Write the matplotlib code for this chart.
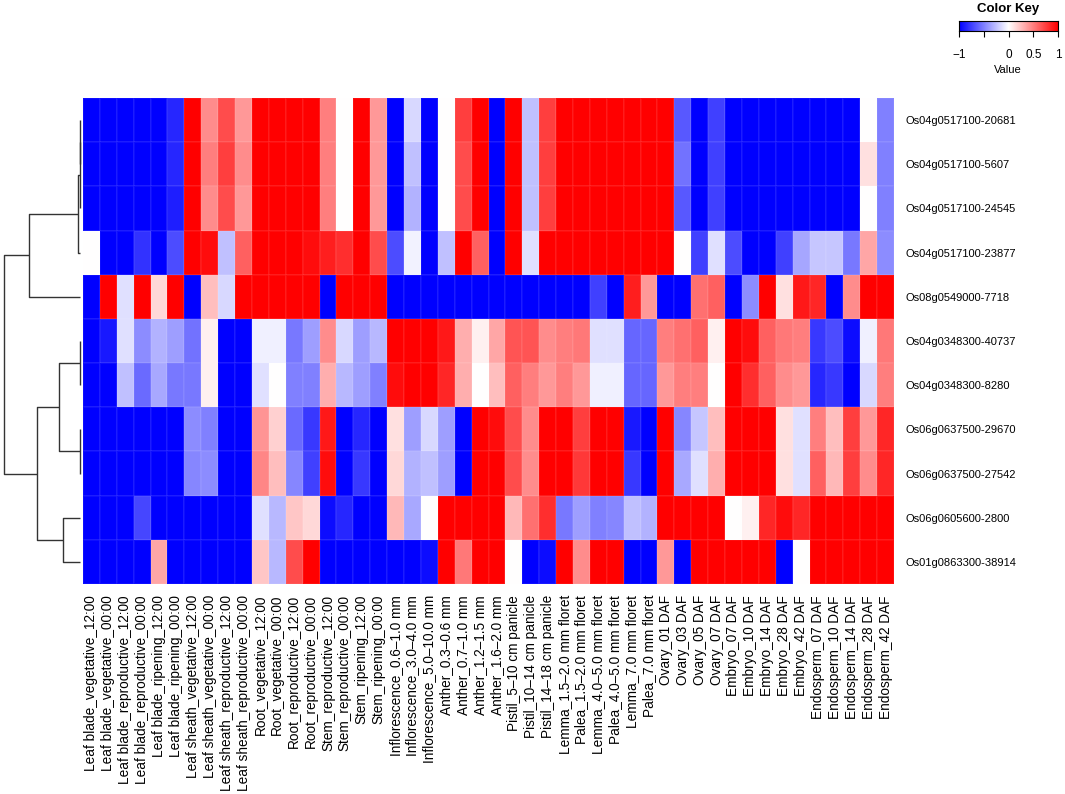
import matplotlib
matplotlib.use("Agg")
import matplotlib.pyplot as plt
import numpy as np

plt.rcParams["font.family"] = ["Liberation Sans", "DejaVu Sans"]

ROW_LABELS = [
    "Os04g0517100-20681", "Os04g0517100-5607", "Os04g0517100-24545", "Os04g0517100-23877",
    "Os08g0549000-7718", "Os04g0348300-40737", "Os04g0348300-8280", "Os06g0637500-29670",
    "Os06g0637500-27542", "Os06g0605600-2800", "Os01g0863300-38914",
]

COL_LABELS = [
    "Leaf blade_vegetative_12:00", "Leaf blade_vegetative_00:00",
    "Leaf blade_reproductive_12:00", "Leaf blade_reproductive_00:00",
    "Leaf blade_ripening_12:00", "Leaf blade_ripening_00:00",
    "Leaf sheath_vegetative_12:00", "Leaf sheath_vegetative_00:00",
    "Leaf sheath_reproductive_12:00", "Leaf sheath_reproductive_00:00",
    "Root_vegetative_12:00", "Root_vegetative_00:00",
    "Root_reproductive_12:00", "Root_reproductive_00:00",
    "Stem_reproductive_12:00", "Stem_reproductive_00:00",
    "Stem_ripening_12:00", "Stem_ripening_00:00",
    "Inflorescence_0.6\u20131.0 mm", "Inflorescence_3.0\u20134.0 mm", "Inflorescence_5.0\u201310.0 mm",
    "Anther_0.3\u20130.6 mm", "Anther_0.7\u20131.0 mm", "Anther_1.2\u20131.5 mm", "Anther_1.6\u20132.0 mm",
    "Pistil_5\u201310 cm panicle", "Pistil_10\u201314 cm panicle", "Pistil_14\u201318 cm panicle",
    "Lemma_1.5\u20132.0 mm floret", "Palea_1.5\u20132.0 mm floret",
    "Lemma_4.0\u20135.0 mm floret", "Palea_4.0\u20135.0 mm floret",
    "Lemma_7.0 mm floret", "Palea_7.0 mm floret",
    "Ovary_01 DAF", "Ovary_03 DAF", "Ovary_05 DAF", "Ovary_07 DAF",
    "Embryo_07 DAF", "Embryo_10 DAF", "Embryo_14 DAF", "Embryo_28 DAF", "Embryo_42 DAF",
    "Endosperm_07 DAF", "Endosperm_10 DAF", "Endosperm_14 DAF", "Endosperm_28 DAF", "Endosperm_42 DAF",
]

# scaled expression, rows top to bottom as displayed
VALUES = [
    [-1, -1, -1, -1, -1, -0.85, 1, 0.45, 0.7, 0.4, 1, 1,
     1, 1, 0.5, 0, 1, 0.4, -1, -0.15, -1, 0, 0.75, 1,
     -1, 1, -0.25, 0.75, 1, 1, 1, 1, 1, 1, 1, -0.65,
     -1, -0.75, -1, -1, -1, -1, -1, -1, -1, -1, 0, -0.5],
    [-1, -1, -1, -1, -1, -0.85, 1, 0.5, 0.75, 0.45, 1, 1,
     1, 1, 0.5, 0, 1, 0.4, -1, -0.25, -1, 0, 0.7, 1,
     -1, 1, -0.25, 0.75, 1, 1, 1, 1, 1, 1, 1, -0.55,
     -1, -0.75, -1, -1, -1, -1, -1, -1, -1, -1, 0.12, -0.5],
    [-1, -1, -1, -1, -1, -0.88, 1, 0.45, 0.7, 0.4, 1, 1,
     1, 1, 0.5, 0, 1, 0.4, -1, -0.3, -1, 0, 0.7, 1,
     -1, 1, -0.25, 0.75, 1, 1, 1, 1, 1, 1, 1, -0.65,
     -1, -0.75, -1, -1, -1, -1, -1, -1, -1, -1, 0, -0.5],
    [0, -1, -1, -0.8, -1, -0.7, 1, 0.95, -0.25, 0.62, 1, 1,
     1, 0.95, 0.88, 0.82, 1, 0.7, -0.7, -0.05, -1, -0.25, 1, 0.62,
     -1, 1, -0.12, 1, 1, 1, 1, 1, 1, 1, 1, 0,
     -0.75, -0.12, -0.7, -1, -1, -0.75, -0.35, -0.22, -0.22, -0.53, 0.35, -0.45],
    [-1, 1, -0.12, 1, 0.15, 1, -1, 0.25, -0.15, 1, 1, 1,
     1, 1, -1, 1, 1, 1, -1, -1, -1, -1, -1, -1,
     -1, -1, -1, -1, -1, -1, -0.75, -1, 0.88, 0.4, -1, -1,
     0.56, 0.62, -1, -0.45, 1, 0.12, 0.9, 0.85, -1, 0.45, 1, 1],
    [-1, -0.9, -0.12, -0.45, -0.3, -0.38, -0.55, 0.06, -1, -1, -0.06, -0.06,
     -0.53, -0.38, 0.45, -0.15, -0.38, -0.28, 1, 1, 1, 0.9, 0.32, 0.06,
     0.35, 0.67, 0.67, 0.45, 0.5, 0.53, -0.12, -0.12, -0.6, -0.6, 0.5, 0.56,
     0.62, 0.06, 1, 0.95, 0.62, 0.53, 0.5, -0.78, -0.7, -0.95, -0.06, 0.53],
    [-1, -1, -0.25, -0.58, -0.34, -0.53, -0.53, 0.06, -1, -1, -0.12, 0,
     -0.5, -0.5, 0.32, -0.28, -0.38, -0.5, 0.95, 1, 1, 0.85, 0.32, 0,
     0.25, 0.62, 0.5, 0.4, 0.5, 0.4, -0.06, -0.06, -0.6, -0.6, 0.4, 0.5,
     0.5, 0, 1, 0.82, 0.62, 0.45, 0.4, -0.85, -0.78, -1, -0.15, 0.5],
    [-1, -1, -1, -1, -1, -1, -0.45, -0.5, -1, -1, 0.42, 0.18,
     -0.58, -0.78, 0.9, -1, -0.85, -1, 0.12, -0.38, -0.15, -0.38, -1, 1,
     0.95, 0.7, 0.45, 1, 1, 0.75, 1, 1, -0.9, -1, 1, -0.47,
     -0.22, 0.25, 1, 1, 1, 0.12, -0.12, 0.5, 0.25, 0.75, 0.4, 0.85],
    [-1, -1, -1, -1, -1, -1, -0.47, -0.45, -1, -1, 0.47, 0.25,
     -0.47, -0.75, 0.95, -1, -0.78, -1, 0.15, -0.3, -0.25, -0.38, -1, 1,
     1, 0.7, 0.45, 1, 1, 0.78, 1, 1, -0.78, -1, 1, -0.34,
     -0.12, 0.32, 1, 1, 1, 0.12, -0.12, 0.62, 0.28, 0.75, 0.45, 0.85],
    [-1, -1, -1, -0.72, -1, -1, -1, -1, -1, -1, -0.12, -0.28,
     0.22, 0.15, -0.95, -0.85, -1, -1, 0.28, -0.34, 0, 1, 1, 1,
     1, 0.28, 0.56, 0.82, -0.53, -0.38, -0.5, -0.47, -0.25, -0.3, 1, 1,
     1, 1, 0, 0.06, 0.85, 0.95, 0.85, 1, 1, 1, 1, 1],
    [-1, -1, -1, -1, 0.35, -1, -1, -1, -1, -1, 0.22, -0.28,
     0.7, 1, -1, -1, -1, -1, -1, -1, -0.95, 1, 0.53, 1,
     1, 0, -1, -0.95, 1, 0.45, 1, 1, -1, -1, 0.4, -1,
     1, 1, 1, 1, 1, -1, 0, 1, 1, 1, 1, 1],
]

# row dendrogram: (left child, right child, height); leaves are 0..10, new nodes numbered from 11
MERGES = [
    (0, 1, 0.1),
    (11, 2, 0.3),
    (12, 3, 1.7),
    (13, 4, 50.7),
    (5, 6, 0.3),
    (7, 8, 0.3),
    (15, 16, 21.3),
    (9, 10, 16.7),
    (17, 18, 42.7),
    (14, 19, 76.0),
]

KEY_TICKS = [-1, -0.5, 0, 0.5, 1]
KEY_TICK_LABELS = ["\u22121", "", "0", "0.5", "1"]

W, H = 1065, 794
fig = plt.figure(figsize=(W / 100, H / 100), dpi=100)


def px_axes(x0, y0, x1, y1):
    return fig.add_axes([x0 / W, 1 - y1 / H, (x1 - x0) / W, (y1 - y0) / H])


data = np.array(VALUES)
n_rows, n_cols = data.shape

ax = px_axes(83, 98, 894, 584)
ax.pcolormesh(np.arange(n_cols + 1), np.arange(n_rows + 1), data, cmap="bwr", vmin=-1, vmax=1,
              edgecolors=(1, 1, 1, 0.06), linewidth=0.3)
ax.set_xlim(0, n_cols)
ax.set_ylim(n_rows, 0)
for s in ax.spines.values():
    s.set_visible(False)
ax.set_xticks(np.arange(n_cols) + 0.5)
ax.set_xticklabels(COL_LABELS, rotation=90, fontsize=9.8, va="top", ha="center")
ax.set_yticks(np.arange(n_rows) + 0.5)
ax.set_yticklabels(ROW_LABELS, fontsize=8)
ax.yaxis.tick_right()
ax.tick_params(axis="x", length=0, pad=8)
ax.tick_params(axis="y", length=0, pad=8.5)

# dendrogram
dax = px_axes(0, 98, 83, 584)
pos = {i: i + 0.5 for i in range(n_rows)}
hgt = {i: 0.0 for i in range(n_rows)}
for k, (a, b, h) in enumerate(MERGES):
    node = n_rows + k
    ya, yb = pos[a], pos[b]
    dax.plot([hgt[a], h, h, hgt[b]], [ya, ya, yb, yb], color="#333333", linewidth=1.0,
             solid_capstyle="butt")
    pos[node] = (ya + yb) / 2
    hgt[node] = h
dax.set_xlim(80, -3)
dax.set_ylim(n_rows, 0)
dax.axis("off")

# color key
kax = px_axes(959, 21, 1058, 31)
grad = np.linspace(-1, 1, 256).reshape(1, -1)
kax.imshow(grad, cmap="bwr", vmin=-1, vmax=1, aspect="auto", extent=[-1, 1, 0, 1])
kax.set_yticks([])
kax.set_xticks(KEY_TICKS)
kax.set_xticklabels(KEY_TICK_LABELS, fontsize=8.5)
kax.tick_params(axis="x", length=4, width=0.8, pad=9)
for s in kax.spines.values():
    s.set_linewidth(0.8)
fig.text(1008 / W, 1 - 9 / H, "Color Key", ha="center", va="center", fontsize=9.5, fontweight="bold")
fig.text(1008 / W, 1 - 70 / H, "Value", ha="center", va="center", fontsize=8)

fig.savefig("out.png", dpi=100)
